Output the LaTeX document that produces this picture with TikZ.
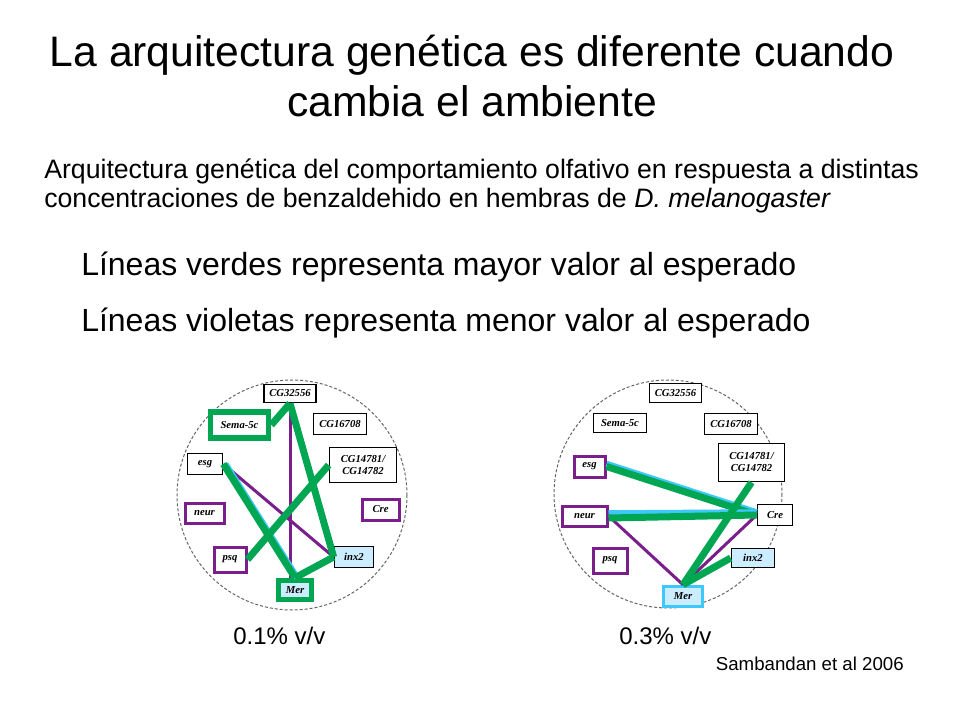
\documentclass[tikz,border=0pt]{standalone}
\usepackage{fontspec}
\setmainfont{Liberation Sans}
\newfontfamily\genefont{Liberation Serif}
\usepackage{tikz}
\usetikzlibrary{calc}

\definecolor{verde}{RGB}{0,166,81}
\definecolor{violeta}{RGB}{122,30,140}
\definecolor{celeste}{RGB}{204,236,255}
\definecolor{cian}{RGB}{60,200,250}

\newdimen\px \px=0.75pt % one pixel of the slide

\tikzset{
  gen/.style={draw, line width=1.7\px, fill=white, inner sep=1pt, align=center,
    font=\genefont\bfseries\itshape\fontsize{8}{9}\selectfont},
  genvio/.style={gen, draw=violeta, line width=3\px},
  genazul/.style={gen, fill=celeste},
  genverde/.style={gen, draw=verde, line width=5.5\px},
  verdel/.style={verde, line width=7\px},
  viol/.style={violeta, line width=3\px},
  sombra/.style={cian, line width=6.5\px},
  rueda/.style={black!60, line width=1\px, dash pattern=on 3\px off 2\px},
}

\begin{document}
\begin{tikzpicture}[x=1\px, y=-1\px]
  \fill[white] (0,0) rectangle (960,720);
  \useasboundingbox (0,0) rectangle (960,720);

  % titles
  \node[anchor=base, font=\fontsize{32}{38}\selectfont] (titulo1) at (472,67) {La arquitectura genética es diferente cuando};
  \node[anchor=base, font=\fontsize{32}{38}\selectfont] (titulo2) at (472,117) {cambia el ambiente};
  \node[anchor=base west, inner sep=0pt, font=\fontsize{20}{24}\selectfont] (sub1) at (44,179) {Arquitectura genética del comportamiento olfativo en respuesta a distintas};
  \node[anchor=base west, inner sep=0pt, font=\fontsize{20}{24}\selectfont] (sub2) at (44,208) {concentraciones de benzaldehido en hembras de \textit{D. melanogaster}};
  \node[anchor=base west, inner sep=0pt, font=\fontsize{24}{28}\selectfont] (verdes) at (81,276) {Líneas verdes representa mayor valor al esperado};
  \node[anchor=base west, inner sep=0pt, font=\fontsize{24}{28}\selectfont] (violetas) at (81,331) {Líneas violetas representa menor valor al esperado};

  % 0.1% v/v
  \draw[rueda] (292,495) circle[radius=115];
  \node[gen, minimum width=52\px, minimum height=18\px] (csl) at (290,393.5) {CG32556};
  \node[genverde, minimum width=58\px, minimum height=26\px] (semal) at (239.5,425) {Sema-5c};
  \node[gen, minimum width=53\px, minimum height=21\px] (c167l) at (340,424) {CG16708};
  \node[gen, minimum width=35\px, minimum height=21\px] (esgl) at (205,464) {esg};
  \node[gen, minimum width=67\px, minimum height=35\px] (c147l) at (363,465) {CG14781/\\CG14782};
  \node[genvio, minimum width=39\px, minimum height=20\px] (neurl) at (204.5,513) {neur};
  \node[genvio, minimum width=37\px, minimum height=21\px] (crel) at (380.5,509.5) {Cre};
  \node[genvio, minimum width=32\px, minimum height=25\px] (psql) at (230,559.5) {psq};
  \node[genazul, minimum width=39\px, minimum height=21\px] (inxl) at (354,557) {inx2};
  \node[genverde, fill=celeste, minimum width=33\px, minimum height=19\px] (merl) at (295,590) {Mer};

  \draw[viol] (csl.south) -- (csl.south |- merl.north);
  \draw[viol] (esgl.east) -- (inxl.west);
  \draw[verdel] (semal.east) -- (csl.south);
  \draw[verdel] (csl.south) -- (inxl.west);
  \draw[sombra] ($(esgl.east)+(2,0)$) -- ($(merl.north)+(2,0)$);
  \draw[verdel] (esgl.east) -- (merl.north);
  \draw[verdel] (c147l.west) -- (psql.east);
  \draw[verdel] (inxl.west) -- (merl.north);

  % 0.3% v/v
  \draw[rueda] (668,494) circle[radius=114];
  \node[gen, minimum width=52\px, minimum height=19\px] (csr) at (675.5,393) {CG32556};
  \node[gen, minimum width=53\px, minimum height=19\px] (semar) at (620,423) {Sema-5c};
  \node[gen, minimum width=53\px, minimum height=21\px] (c167r) at (731,424) {CG16708};
  \node[genvio, minimum width=31\px, minimum height=21\px] (esgr) at (589.5,466.5) {esg};
  \node[gen, minimum width=66\px, minimum height=38\px] (c147r) at (751.5,462.5) {CG14781/\\CG14782};
  \node[genvio, minimum width=45\px, minimum height=20\px] (neurr) at (584.5,516) {neur};
  \node[gen, minimum width=35\px, minimum height=21\px] (crer) at (775,515) {Cre};
  \node[genvio, minimum width=34\px, minimum height=25\px] (psqr) at (610,560.5) {psq};
  \node[genazul, minimum width=43\px, minimum height=19\px] (inxr) at (753,558) {inx2};
  \node[genazul, draw=cian, line width=3.5\px, minimum width=39\px, minimum height=20\px] (merr) at (683,596.5) {Mer};

  \draw[viol] (neurr.east) -- (merr.north);
  \draw[viol] (crer.west) -- (merr.north);
  \draw[sombra] ($(esgr.east)+(0,-2.5)$) -- ($(crer.west)+(0,-2.5)$);
  \draw[verdel] (esgr.east) -- (crer.west);
  \draw[sombra] ($(neurr.east)+(0,-2.5)$) -- ($(crer.west)+(0,-2.5)$);
  \draw[verdel] ($(neurr.east)+(0,2)$) -- (crer.west);
  \draw[verdel] (c147r.south) -- (merr.north);
  \draw[verdel] (inxr.west) -- (merr.north);

  % labels
  \node[anchor=base west, inner sep=0pt, font=\fontsize{18}{22}\selectfont] (etiq1) at (233,644) {0.1\% v/v};
  \node[anchor=base west, inner sep=0pt, font=\fontsize{18}{22}\selectfont] (etiq2) at (619,644) {0.3\% v/v};
  \node[anchor=base east, inner sep=0pt, font=\fontsize{14}{16}\selectfont] (cita) at (904,670) {Sambandan et al 2006};
\end{tikzpicture}
\end{document}
